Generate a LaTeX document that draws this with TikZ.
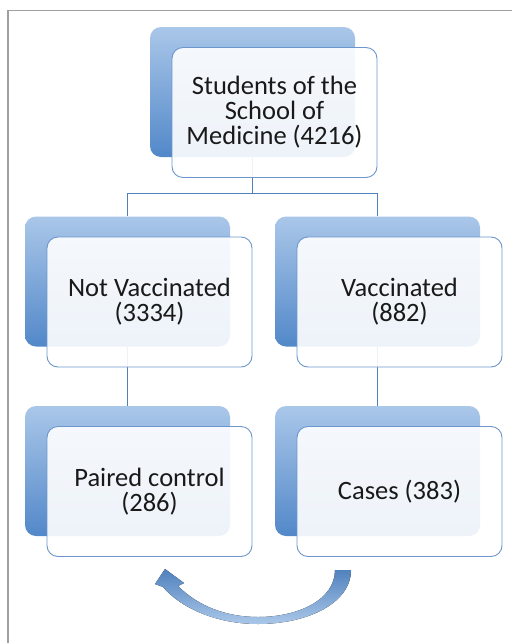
\documentclass[tikz,border=0pt]{standalone}
\usepackage{fontspec}
\setmainfont{Carlito}
\usepackage{tikz}
\usetikzlibrary{shapes, arrows.meta, positioning, calc}
\definecolor{linkblue}{RGB}{79,129,189}
\definecolor{edgeblue}{RGB}{108,150,204}
\definecolor{lightblue}{RGB}{170,199,233}
\definecolor{darkblue}{RGB}{82,136,201}
\tikzstyle{backbox} = [rectangle, rounded corners=11pt, minimum width=205pt, minimum height=130pt, top color=lightblue, bottom color=darkblue]
\tikzstyle{frontbox} = [rectangle, rounded corners=11pt, minimum width=205pt, minimum height=130pt, align=center, draw=edgeblue, line width=0.9pt, fill=white, fill opacity=0.9, text opacity=1, text=black!90, font=\fontsize{26.5}{25}\selectfont]
\tikzstyle{link} = [draw=linkblue, line width=0.9pt]

\begin{document}
\begin{tikzpicture}[x=1pt, y=-1pt, node distance=189.5pt]
\useasboundingbox (0,0) rectangle (512,643);
\draw[gray!75, line width=1.5pt] (8,643) -- (8,10.5) -- (512,10.5);
% back boxes
\node (topb) [backbox] at (252.5,92) {};
\node (notb) [backbox, below of=topb, xshift=-125pt] {};
\node (vacb) [backbox, below of=topb, xshift=125pt] {};
\node (pairb) [backbox, below of=notb] {};
\node (caseb) [backbox, below of=vacb] {};
% tree lines
\draw[link] (topb.south) -- ++(0,36) -| (notb.north);
\draw[link] (topb.south) -- ++(0,36) -| (vacb.north);
\draw[link] (notb.south) -- (pairb.north);
\draw[link] (vacb.south) -- (caseb.north);
% front boxes
\node (topf) [frontbox, xshift=22pt, yshift=-20.5pt] at (topb) {Students of the\\School of\\Medicine (4216)};
\node (notf) [frontbox, xshift=22pt, yshift=-20.5pt] at (notb) {Not Vaccinated\\(3334)};
\node (vacf) [frontbox, xshift=22pt, yshift=-20.5pt] at (vacb) {Vaccinated\\(882)};
\node (pairf) [frontbox, xshift=22pt, yshift=-20.5pt] at (pairb) {Paired control\\(286)};
\node (casef) [frontbox, xshift=22pt, yshift=-20.5pt] at (caseb) {Cases (383)};
% curved arrow
\fill[top color=linkblue, bottom color=lightblue] (351,570) .. controls (351,603) and (308,624) .. (258,624) .. controls (215,624) and (180,607) .. (163,587) -- (155,584) -- (165,569) -- (184,583) -- (178,586) .. controls (198,606) and (226,617) .. (258,617) .. controls (298,617) and (335,600) .. (335,570) -- cycle;
\end{tikzpicture}
\end{document}
